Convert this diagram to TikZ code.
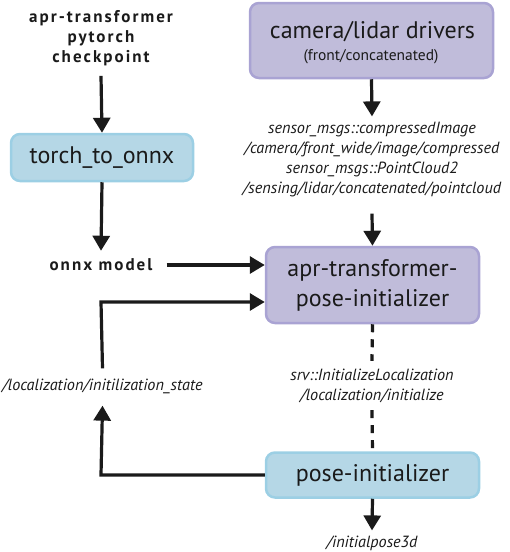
\documentclass[tikz,border=0pt]{standalone}
\usepackage{fontspec}
\setmainfont{PT Sans}
\usetikzlibrary{arrows.meta}
\definecolor{bluefill}{HTML}{B5D7E6}
\definecolor{blueline}{HTML}{9CCFE4}
\definecolor{purpfill}{HTML}{C0BCDA}
\definecolor{purpline}{HTML}{A9A3D3}
\definecolor{ink}{HTML}{1A1A1A}
\tikzset{
  boxbase/.style={line width=2.5pt, rounded corners=9pt, inner sep=0pt, text=ink, align=center, font=\fontsize{24}{30}\selectfont},
  bluebox/.style={boxbase, draw=blueline, fill=bluefill},
  purpbox/.style={boxbase, draw=purpline, fill=purpfill},
  boxtext/.style={text=ink, inner sep=0pt, font=\fontsize{24}{30}\selectfont},
  smalltext/.style={text=ink, inner sep=0pt, font=\fontsize{15.5}{18}\selectfont},
  boldlbl/.style={font=\bfseries\addfontfeature{LetterSpace=12}\fontsize{17}{20}\selectfont, text=ink, align=center, inner sep=0pt},
  itlbl/.style={font=\itshape\fontsize{16.2}{20}\selectfont, text=ink, align=center, inner sep=0pt},
  flow/.style={draw=ink, line width=3.2pt, -{Triangle[width=17pt,length=15pt]}},
  dash line/.style={draw=ink, line width=3.2pt, dash pattern=on 8pt off 7pt},
}
\begin{document}
\begin{tikzpicture}[x=1pt,y=-1pt]
\useasboundingbox (0,0) rectangle (510,552);
% nodes
\node[boldlbl] (ckpt) at (101,38) {apr-transformer\\pytorch\\checkpoint};
\node[bluebox, minimum width=182pt, minimum height=47pt] (t2o) at (102,157.5) {torch\_to\_onnx};
\node[boldlbl] (onnx) at (101,265) {onnx model};
\node[purpbox, minimum width=243pt, minimum height=75pt] (cam) at (371.5,40.5) {};
\node[boxtext] (camt) at (372.5,32) {camera/lidar drivers};
\node[smalltext] (camsub) at (371,57) {(front/concatenated)};
\node[itlbl] (topics) at (372,160) {sensor\_msgs::compressedImage\\/camera/front\_wide/image/compressed\\sensor\_msgs::PointCloud2\\/sensing/lidar/concatenated/pointcloud};
\node[purpbox, minimum width=213pt, minimum height=76pt] (apr) at (372.5,285) {apr-transformer-\\pose-initializer};
\node[itlbl] (srv) at (372,386) {srv::InitializeLocalization\\/localization/initialize};
\node[bluebox, minimum width=213pt, minimum height=45pt] (pi) at (372.5,475) {pose-initializer};
\node[itlbl] (ip) at (372,543) {/initialpose3d};
\node[itlbl] (state) at (102.5,386) {/localization/initilization\_state};
\coordinate (lowcorner) at (101,475);
\coordinate (upcorner) at (101,302);
% connectors
\draw[flow] ([yshift=-10pt]ckpt.south) -- (t2o.north);
\draw[flow] (t2o.south) -- ([yshift=8pt]onnx.north);
\draw[flow] ([xshift=14pt]onnx.east) -- (apr.west |- onnx.east);
\draw[flow] (cam.south) -- ([yshift=6pt]topics.north);
\draw[flow] ([yshift=-16pt]topics.south) -- (apr.north);
\draw[dash line] (apr.south) -- ([yshift=8pt]srv.north);
\draw[dash line] ([yshift=-7pt]srv.south) -- (pi.north);
\draw[flow] (pi.south) -- ([yshift=5pt]ip.north);
\draw[flow] (pi.west) -- (lowcorner) -- ([yshift=-12pt]state.south);
\draw[flow] ([yshift=10pt]state.north) -- (upcorner) -- (apr.west |- upcorner);
\end{tikzpicture}
\end{document}
